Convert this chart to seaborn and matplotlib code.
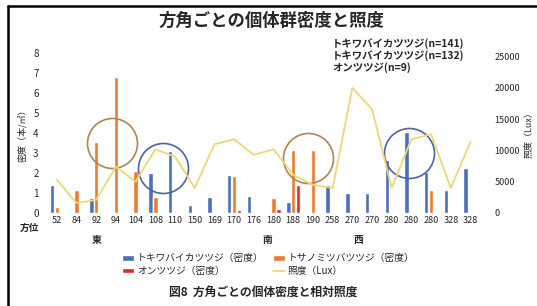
import numpy as np
import pandas as pd
import matplotlib
matplotlib.use("Agg")
import matplotlib.pyplot as plt
from matplotlib.lines import Line2D
import seaborn as sns

# Data
directions = ["52", "84", "92", "94", "104", "108", "110", "150", "169", "170", "176",
              "180", "188", "190", "258", "270", "270", "280", "280", "280", "328", "328"]
tokiwa = [1.4, 0, 0.75, 0, 0, 2.0, 3.1, 0.4, 0.8, 1.9, 0.85,
          0, 0.55, 0, 1.4, 1.0, 1.0, 2.65, 4.05, 2.05, 1.15, 2.25]
tosa = [0.3, 1.15, 3.55, 6.8, 2.1, 0.8, 0, 0, 0, 1.85, 0,
        0.75, 3.15, 3.15, 0, 0, 0, 0, 0, 1.15, 0, 0]
on = [0, 0, 0, 0, 0, 0, 0, 0, 0, 0.15, 0,
      0.2, 1.4, 0, 0, 0, 0, 0, 0, 0, 0, 0]
lux = [5300, 1600, 2100, 7400, 5000, 10200, 9000, 4000, 11000, 11800, 9300,
       10200, 6100, 4500, 4000, 20000, 16600, 4000, 11800, 12600, 4000, 11400]

species = ["トキワバイカツツジ（密度）", "トサノミツバツツジ（密度）", "オンツツジ（密度）"]
colors = ["#4a6fbd", "#ee7a30", "#e0282a"]
line_color = "#eed870"

# circled areas (category position, density)
circles = [(2.8, 3.5, "#b08454"), (5.4, 2.25, "#4a64a8"),
           (12.75, 2.75, "#b08454"), (17.9, 3.0, "#4a64a8")]

idx = np.arange(len(directions))
df = pd.concat([
    pd.DataFrame({"pos": idx, "density": vals, "species": name})
    for name, vals in zip(species, [tokiwa, tosa, on])
])

sns.set_style("white")
plt.rcParams["font.family"] = ["Noto Sans CJK JP", "DejaVu Sans"]

fig = plt.figure(figsize=(5.37, 3.06), dpi=100)
ax = fig.add_axes([0.0875, 0.304, 0.807, 0.523])

sns.barplot(data=df, x="pos", y="density", hue="species", hue_order=species,
            palette=colors, width=0.75, gap=0.1, saturation=1, ax=ax)
ax.set_xlim(-0.5, len(directions) - 0.5)
ax.set_ylim(0, 8)
ax.set_yticks(range(9))
ax.set_xticks(idx)
ax.set_xticklabels(directions, fontsize=6.5)
ax.tick_params(axis="y", labelsize=7, length=0, pad=6)
ax.tick_params(axis="x", length=0, pad=2)
ax.set_xlabel("")
ax.set_ylabel("密度（本/㎡）", fontsize=6.5, labelpad=4)

for cx, cy, col in circles:
    ax.plot([cx], [cy], "o", ms=36, mfc="none", mec=col, mew=1.2)

ax2 = ax.twinx()
sns.lineplot(x=idx, y=lux, color=line_color, lw=1.3, ax=ax2, label="照度（Lux）")
ax2.set_xlim(-0.5, len(directions) - 0.5)
ax2.set_ylim(0, 25600)
ax2.set_yticks(range(0, 25001, 5000))
ax2.tick_params(axis="y", labelsize=6.5, length=0, pad=10)
ax2.set_ylabel("照度（Lux）", fontsize=6.5, rotation=90, labelpad=3)

for a in (ax, ax2):
    for s in a.spines.values():
        s.set_visible(False)

# legend from both axes
h1, l1 = ax.get_legend_handles_labels()
h2, l2 = ax2.get_legend_handles_labels()
ax.legend_.remove()
ax2.legend_.remove()
handles = [h1[0], h1[2], h1[1], h2[0]]
labels = [l1[0], l1[2], l1[1], l2[0]]
fig.legend(handles, labels, ncol=2, loc="center", bbox_to_anchor=(0.5, 0.135),
           frameon=False, fontsize=7, handlelength=1.2, handleheight=0.5,
           handletextpad=0.3, columnspacing=1.0, labelspacing=0.3)

# direction markers
trans = ax.get_xaxis_transform()
for pos, name in [(2, "東"), (10.7, "南"), (15.3, "西")]:
    ax.text(pos, -0.17, name, transform=trans, ha="center", va="center",
            fontsize=7, fontweight="bold")

fig.text(30 / 537, 1 - 228 / 306, "方位", ha="center", va="center",
         fontsize=7, fontweight="bold")
fig.text(0.505, 1 - 21 / 306, "方角ごとの個体群密度と照度", ha="center", va="center",
         fontsize=12.5, fontweight="bold")
fig.text(332 / 537, 1 - 38 / 306,
         "トキワバイカツツジ(n=141)\nトキワバイカツツジ(n=132)\nオンツツジ(n=9)",
         ha="left", va="top", fontsize=7.5, fontweight="bold", linespacing=1.15)
fig.text(0.49, 1 - 292 / 306, "図8  方角ごとの個体密度と相対照度", ha="center",
         va="center", fontsize=8.5, fontweight="bold")

# outer frame (top and left edges visible)
fig.add_artist(Line2D([8 / 537, 1.0], [1 - 6 / 306] * 2, color="black", lw=1.8,
                      transform=fig.transFigure))
fig.add_artist(Line2D([8 / 537] * 2, [0, 1 - 6 / 306], color="black", lw=1.8,
                      transform=fig.transFigure))

fig.savefig("out.png", dpi=100)
